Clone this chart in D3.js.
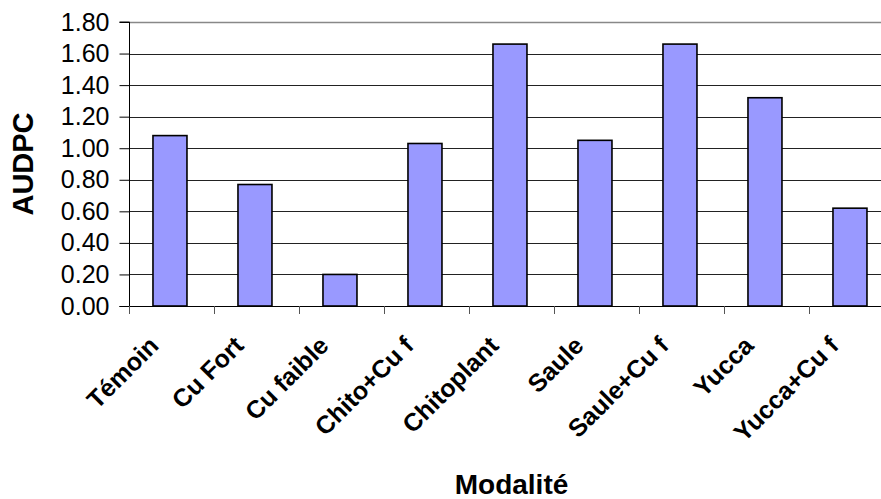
<!DOCTYPE html>
<html>
<head>
<meta charset="utf-8">
<script src="https://cdn.jsdelivr.net/npm/d3@7"></script>
<style>
  html, body { margin: 0; padding: 0; background: #fff; }
  svg { display: block; font-family: Arial, "Liberation Sans", sans-serif; }
</style>
</head>
<body>
<svg id="chart" width="881" height="499"></svg>
<script>
// AUDPC per treatment
const categories = ["Témoin", "Cu Fort", "Cu faible", "Chito+Cu f", "Chitoplant",
                    "Saule", "Saule+Cu f", "Yucca", "Yucca+Cu f"];
const values = [1.08, 0.77, 0.20, 1.03, 1.66, 1.05, 1.66, 1.32, 0.62];
const yTicks = [0, 0.2, 0.4, 0.6, 0.8, 1.0, 1.2, 1.4, 1.6, 1.8];
const yTitle = "AUDPC";
const xTitle = "Modalité";

const svg = d3.select("#chart");
const plotLeft = 129, plotRight = 894, plotTop = 22, plotBottom = 306;

const x = d3.scaleBand().domain(categories).range([plotLeft, plotRight])
  .paddingInner(0.6).paddingOuter(0.3).align(0.47);
const y = d3.scaleLinear().domain([0, 1.8]).range([plotBottom, plotTop]);

// horizontal gridlines
svg.append("g").selectAll("line").data(yTicks.filter(d => d > 0)).join("line")
  .attr("x1", plotLeft).attr("x2", plotRight)
  .attr("y1", d => Math.round(y(d)) + 0.5).attr("y2", d => Math.round(y(d)) + 0.5)
  .attr("stroke", d => d === 1.8 ? "#888" : "#222")
  .attr("stroke-width", d => d === 1.8 ? 1.5 : 1);

// bars
svg.append("g").selectAll("rect").data(values).join("rect")
  .attr("x", (d, i) => x(categories[i]))
  .attr("width", x.bandwidth())
  .attr("y", d => y(d))
  .attr("height", d => plotBottom - y(d))
  .attr("fill", "#9999ff")
  .attr("stroke", "#000")
  .attr("stroke-width", 1.6);

// value axis
const yAxis = d3.axisLeft(y).tickValues(yTicks).tickFormat(d3.format(".2f"))
  .tickSize(10).tickPadding(10);
const gy = svg.append("g").attr("transform", `translate(${plotLeft + 0.5},0)`).call(yAxis);
gy.select(".domain").attr("stroke", "#000").attr("d", `M-10,${plotBottom + 0.5}H0V${plotTop}H-10`);
gy.selectAll(".tick line").attr("stroke", "#000");
gy.selectAll(".tick text").attr("font-size", 25).attr("fill", "#000")
  .attr("font-family", "Arial, 'Liberation Sans', sans-serif");

// category axis baseline and boundary ticks
svg.append("line").attr("x1", plotLeft).attr("x2", plotRight)
  .attr("y1", plotBottom + 0.5).attr("y2", plotBottom + 0.5).attr("stroke", "#000");
const bounds = d3.range(categories.length + 1)
  .map(i => plotLeft + i * (plotRight - plotLeft) / categories.length);
svg.append("g").selectAll("line").data(bounds).join("line")
  .attr("x1", d => Math.round(d) + 0.5).attr("x2", d => Math.round(d) + 0.5)
  .attr("y1", plotBottom).attr("y2", plotBottom + 8)
  .attr("stroke", "#555");

// rotated category labels
svg.append("g").selectAll("text").data(categories).join("text")
  .attr("transform", d => `translate(${x(d) + x.bandwidth() / 2 - 16},${plotBottom + 35}) rotate(-45)`)
  .attr("text-anchor", "end")
  .attr("dy", "0.35em")
  .attr("font-size", 25)
  .attr("font-weight", "bold")
  .text(d => d);

// axis titles
svg.append("text")
  .attr("transform", `translate(33,${(plotTop + plotBottom) / 2}) rotate(-90)`)
  .attr("text-anchor", "middle")
  .attr("font-size", 29).attr("font-weight", "bold")
  .text(yTitle);
svg.append("text")
  .attr("x", (plotLeft + plotRight) / 2).attr("y", 494)
  .attr("text-anchor", "middle")
  .attr("font-size", 28).attr("font-weight", "bold")
  .text(xTitle);
</script>
</body>
</html>
